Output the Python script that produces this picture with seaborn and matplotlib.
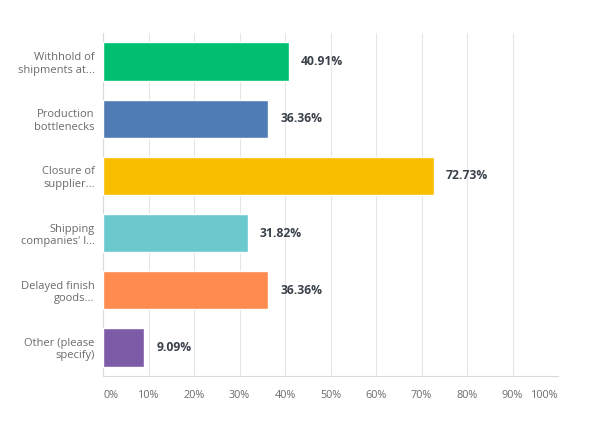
import matplotlib
matplotlib.use('Agg')
import matplotlib.pyplot as plt
import seaborn as sns
import pandas as pd
import numpy as np

categories = ["Withhold of\nshipments at...", "Production\nbottlenecks", "Closure of\nsupplier...",
              "Shipping\ncompanies' l...", "Delayed finish\ngoods...", "Other (please\nspecify)"]
values = [40.91, 36.36, 72.73, 31.82, 36.36, 9.09]
colors = ["#00BF6F", "#507CB6", "#F9BE00", "#6BC8CD", "#FF8B4F", "#7D5BA6"]
xticks = [0, 10, 20, 30, 40, 50, 60, 70, 80, 90, 100]

sns.set_style('white')
plt.rcParams['font.family'] = ['Open Sans', 'DejaVu Sans']

df = pd.DataFrame({'cat': categories, 'val': values})

fig = plt.figure(figsize=(5.9, 4.38), dpi=100)
ax = fig.add_axes([0.1746, 0.1416, 0.7712, 0.7831])
sns.barplot(data=df, x='val', y='cat', hue='cat', palette=colors, legend=False,
            width=0.67, saturation=1, ax=ax, zorder=3)

ax.set_xlim(0, 100)
ax.set_xticks(xticks)
ax.set_xticklabels([f"{t}%" for t in xticks])
ax.set_xlabel('')
ax.set_ylabel('')
ax.grid(True, axis='x', color='#e6e6e6', linewidth=0.8, zorder=0)
ax.tick_params(axis='x', colors='#6b6b6b', labelsize=7.8, length=0, pad=10)
ax.tick_params(axis='y', colors='#6b6b6b', labelsize=8, length=0, pad=6)
xl = ax.get_xticklabels()
xl[0].set_horizontalalignment('left')
xl[-1].set_horizontalalignment('right')
for lbl in ax.get_yticklabels():
    lbl.set_horizontalalignment('right')
for s in ['top', 'right']:
    ax.spines[s].set_visible(False)
for s in ['left', 'bottom']:
    ax.spines[s].set_color('#d9d9d9')
    ax.spines[s].set_linewidth(0.8)

for i, v in enumerate(values):
    ax.text(v + 2.6, i, f"{v:.2f}%", va='center', ha='left', fontsize=8.7,
            fontweight='bold', color='#3a414a')

fig.savefig('out.png', dpi=100)
